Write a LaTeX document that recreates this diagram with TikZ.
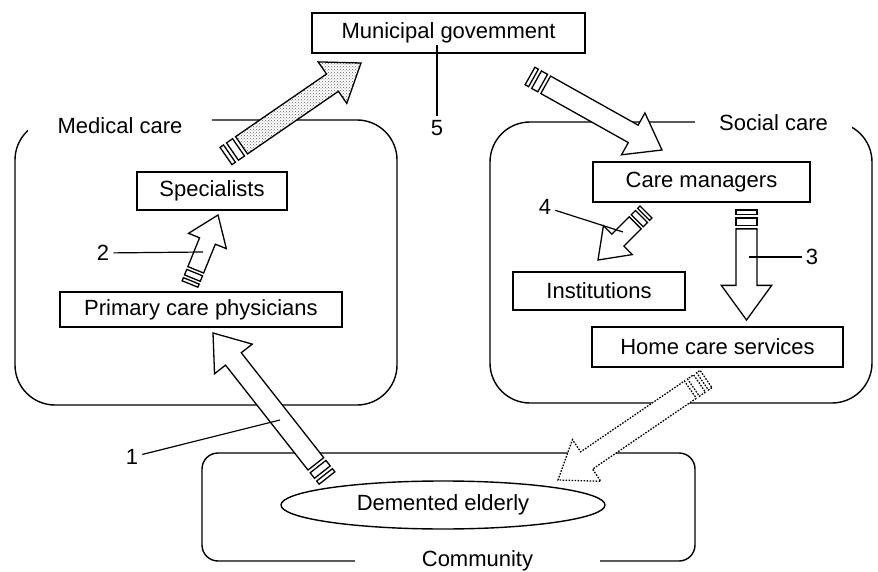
\documentclass[tikz,border=0pt]{standalone}
\usepackage{fontspec}
\setmainfont{Liberation Sans}
\usetikzlibrary{calc,shapes.geometric,patterns}

\tikzset{
  box/.style={draw, line width=1.4pt, inner sep=0pt},
  area/.style={draw, line width=1.4pt, rounded corners=40pt, inner sep=0pt},
  areatag/.style={fill=white, inner sep=0pt, minimum height=22pt},
  fatarrow/.style={draw, fill=white, line width=1.3pt},
  stipple/.style={preaction={fill=white}, pattern=crosshatch dots, pattern color=black!60},
  pointer/.style={line width=1.2pt},
  num/.style={inner sep=4pt},
}

\newcommand{\bandarrow}[5][]{%
  \pgfmathsetmacro\arrbw{#4}%
  \pgfmathsetmacro\arrhw{2.4*#4}%
  \pgfmathsetmacro\arrhl{3.3*#4}%
  \pgfmathsetmacro\arrsa{0.4*#4}%
  \pgfmathsetmacro\arrsb{0.75*#4}%
  \pgfmathsetmacro\arrsc{1.45*#4}%
  \pgfmathsetmacro\arrsd{1.8*#4}%
  \draw[fatarrow,#1,#5] ($(#2)!\arrsd pt!(#3)!\arrbw pt!90:(#3)$)
    -- ($(#3)!\arrhl pt!(#2)!\arrbw pt!-90:(#2)$) -- ($(#3)!\arrhl pt!(#2)!\arrhw pt!-90:(#2)$)
    -- (#3)
    -- ($(#3)!\arrhl pt!(#2)!\arrhw pt!90:(#2)$) -- ($(#3)!\arrhl pt!(#2)!\arrbw pt!90:(#2)$)
    -- ($(#2)!\arrsd pt!(#3)!\arrbw pt!-90:(#3)$) -- cycle;
  \draw[fatarrow,#1] ($(#2)!\arrsb pt!(#3)!\arrbw pt!90:(#3)$) -- ($(#2)!\arrsc pt!(#3)!\arrbw pt!90:(#3)$)
    -- ($(#2)!\arrsc pt!(#3)!\arrbw pt!-90:(#3)$) -- ($(#2)!\arrsb pt!(#3)!\arrbw pt!-90:(#3)$) -- cycle;
  \draw[fatarrow,#1] ($(#2)!\arrbw pt!90:(#3)$) -- ($(#2)!\arrsa pt!(#3)!\arrbw pt!90:(#3)$)
    -- ($(#2)!\arrsa pt!(#3)!\arrbw pt!-90:(#3)$) -- ($(#2)!\arrbw pt!-90:(#3)$) -- cycle;
}

\begin{document}
\begin{tikzpicture}[x=1pt, y=-1pt, font=\fontsize{22}{26}\selectfont]
	\useasboundingbox (0,0) rectangle (878,572);
	\node[area, minimum width=382pt, minimum height=285pt] (med) at (206,262.5) {};
	\node[area, minimum width=382pt, minimum height=281pt] (soc) at (681,262.5) {};
	\node[area, rounded corners=16pt, minimum width=493pt, minimum height=108pt] (com) at (448.5,507) {};
	\node[areatag, minimum width=184pt] (medlab) at (120,126) {Medical care};
	\node[areatag, minimum width=157pt] (soclab) at (773.5,123) {Social care};
	\node[areatag, minimum width=245pt] (comlab) at (477.5,561) {Community};

	\node[box, minimum width=273pt, minimum height=40pt] (mun) at (448.5,33) {Municipal govemment};
	\node[box, minimum width=150pt, minimum height=38pt] (spec) at (212,191) {Specialists};
	\node[box, minimum width=282pt, minimum height=35pt] (pcp) at (201,309.5) {Primary care physicians};
	\node[box, minimum width=217pt, minimum height=40pt] (cm) at (701.5,182) {Care managers};
	\node[box, minimum width=172pt, minimum height=38pt] (inst) at (599,291) {Institutions};
	\node[box, minimum width=251pt, minimum height=40pt] (hcs) at (717.5,347) {Home care services};
	\node[draw, ellipse, line width=1.4pt, inner sep=0pt, minimum width=324pt, minimum height=48pt] (eld) at (443,505) {Demented elderly};

	\coordinate (a1t) at (327,478);   \coordinate (a1h) at (213,333);
	\coordinate (a2t) at (190,284);   \coordinate (a2h) at (218,215);
	\coordinate (a3t) at (746.5,210); \coordinate (a3h) at (746.5,320);
	\coordinate (a4t) at (646,212);   \coordinate (a4h) at (598,260);
	\coordinate (a5t) at (226,156);   \coordinate (a5h) at (361,63);
	\coordinate (a6t) at (530,76);    \coordinate (a6h) at (662,150);
	\coordinate (a7t) at (706,379);   \coordinate (a7h) at (558,480);
	\bandarrow{a1t}{a1h}{10}{}
	\bandarrow{a2t}{a2h}{8.5}{}
	\bandarrow{a3t}{a3h}{10.5}{}
	\bandarrow{a4t}{a4h}{8.5}{}
	\bandarrow{a5t}{a5h}{10.5}{stipple}
	\bandarrow{a6t}{a6h}{10}{}
	\bandarrow[dash pattern=on 1.6pt off 1.4pt]{a7t}{a7h}{10.5}{}

	\node[num] (n1) at (132,457) {1};
	\node[num] (n2) at (103,253) {2};
	\node[num] (n3) at (812,257) {3};
	\node[num] (n4) at (545,207) {4};
	\node[num] (n5) at (437,128) {5};
	\coordinate (p1) at (280,420);
	\coordinate (p2) at (203,252);
	\coordinate (p3) at (749,257);
	\coordinate (p4) at (623,232);
	\coordinate (p5) at (437,45);
	\draw[pointer] (n1) -- (p1);
	\draw[pointer] (n2) -- (p2);
	\draw[pointer] (n3) -- (p3);
	\draw[pointer] (n4) -- (p4);
	\draw[pointer] (n5) -- (p5);
\end{tikzpicture}
\end{document}
